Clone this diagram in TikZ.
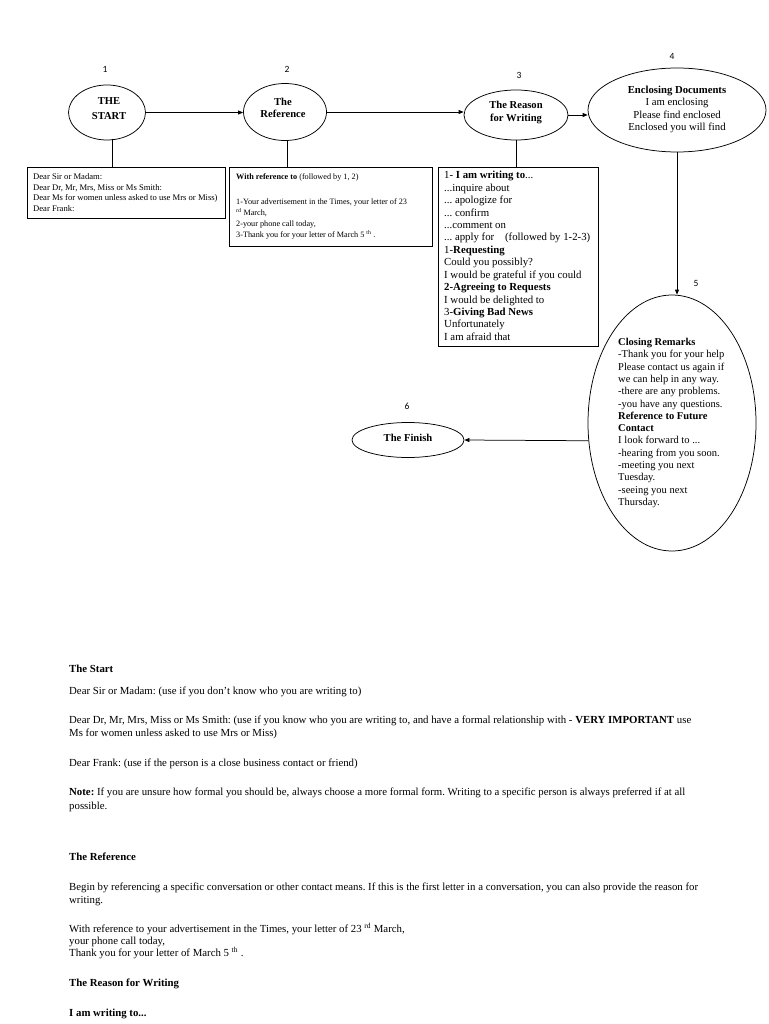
\documentclass[tikz,border=0pt]{standalone}
\usepackage{fontspec}
\setmainfont{Liberation Serif}
\newfontfamily\numfont{Carlito}
\usetikzlibrary{arrows.meta,shapes.geometric}
\frenchspacing
\begin{document}
\begin{tikzpicture}[x=1pt,y=-1pt,
  ell/.style={draw, ellipse, inner sep=0pt, line width=0.75pt},
  boxr/.style={draw, rectangle, inner sep=0pt, line width=0.75pt, anchor=north west},
  num/.style={font=\numfont\fontsize{9.5}{10}\selectfont, inner sep=0pt},
  etext/.style={align=center, inner sep=0pt, font=\bfseries\fontsize{10.6}{14}\selectfont},
  tline/.style={anchor=base west, inner sep=0pt, font=\fontsize{10.8}{12}\selectfont},
  conn/.style={line width=0.75pt},
  arr/.style={line width=0.75pt, -{Triangle[length=5pt,width=4pt]}}]
\useasboundingbox[fill=white] (0,0) rectangle (768,1024);

% step numbers
\node[num] (n1) at (105,69) {1};
\node[num] (n2) at (287,69) {2};
\node[num] (n3) at (519,75) {3};
\node[num] (n4) at (672,56) {4};
\node[num] (n5) at (696,283) {5};
\node[num] (n6) at (407,406) {6};

% ellipses
\node[ell, minimum width=77pt, minimum height=55pt] (e1) at (107,112.5) {};
\node[etext, font=\bfseries\fontsize{10.6}{15}\selectfont] (t1) at (109,108.5) {THE\\START};
\node[ell, minimum width=83pt, minimum height=57pt] (e2) at (285,112) {};
\node[etext, font=\bfseries\fontsize{10.6}{12}\selectfont] (t2) at (283,108) {The\\Reference};
\node[ell, minimum width=104pt, minimum height=50pt] (e3) at (516,115) {};
\node[etext, font=\bfseries\fontsize{10.6}{13}\selectfont] (t3) at (516,112) {The Reason\\for Writing};
\node[ell, minimum width=178pt, minimum height=84pt] (e4) at (677,110) {};
\node[align=center, inner sep=0pt, font=\fontsize{10.7}{12.2}\selectfont] (t4) at (677,109.5)
  {\textbf{Enclosing Documents}\\I am enclosing\\Please find enclosed\\Enclosed you will find};
\node[ell, minimum width=168pt, minimum height=256pt] (e5) at (672,423) {};
\node[anchor=base west, inner sep=0pt, font=\fontsize{10.5}{12.3}\selectfont] (t5) at (618,345.5)
  {\parbox[t]{130pt}{\raggedright
  \textbf{Closing Remarks}\\
  -Thank you for your help\\
  Please contact us again if\\
  we can help in any way.\\
  -there are any problems.\\
  -you have any questions.\\
  \textbf{Reference to Future}\\
  \textbf{Contact}\\
  I look forward to ...\\
  -hearing from you soon.\\
  -meeting you next\\
  Tuesday.\\
  -seeing you next\\
  Thursday.}};
\node[ell, minimum width=112pt, minimum height=35pt] (e6) at (408,440) {};
\node[etext] (t6) at (408,438) {The Finish};

% boxes
\node[boxr, minimum width=198pt, minimum height=51pt] (b1) at (27,167) {};
\node[anchor=base west, inner sep=0pt, font=\fontsize{8.6}{10.6}\selectfont] (bt1) at (33,179.5)
  {\parbox[t]{190pt}{\raggedright
  Dear Sir or Madam:\\
  Dear Dr, Mr, Mrs, Miss or Ms Smith:\\
  Dear Ms for women unless asked to use Mrs or Miss)\\
  Dear Frank:}};
\node[boxr, minimum width=203pt, minimum height=79pt] (b2) at (229,167) {};
\node[anchor=base west, inner sep=0pt, font=\fontsize{8.2}{11}\selectfont] (bt2) at (236,180)
  {\parbox[t]{195pt}{\raggedright
  \textbf{With reference to} (followed by 1, 2)\\[13.3pt]
  1-Your advertisement in the Times, your letter of 23\\
  \textsuperscript{rd} March,\\
  2-your phone call today,\\
  3-Thank you for your letter of March 5 \textsuperscript{th} .}};
\node[boxr, minimum width=160pt, minimum height=179pt] (b3) at (438,167) {};
\node[anchor=base west, inner sep=0pt, font=\fontsize{10.8}{12.4}\selectfont] (bt3) at (444,179)
  {\parbox[t]{154pt}{\raggedright
  1- \textbf{I am writing to}...\\
  ...inquire about\\
  ... apologize for\\
  ... confirm\\
  ...comment on\\
  ... apply for\quad (followed by 1-2-3)\\
  1-\textbf{Requesting}\\
  Could you possibly?\\
  I would be grateful if you could\\
  \textbf{2-Agreeing to Requests}\\
  I would be delighted to\\
  3-\textbf{Giving Bad News}\\
  Unfortunately\\
  I am afraid that}};

% connectors
\coordinate (c1) at (112,139);
\draw[conn] (c1) -- (c1 |- b1.north);
\coordinate (c2) at (287,140);
\draw[conn] (c2) -- (c2 |- b2.north);
\draw[conn] (e3.south) -- (e3.south |- b3.north);
\draw[arr] (e1.east) -- (e1.east -| e2.west);
\draw[arr] (e2.east) -- (e2.east -| e3.west);
\draw[arr] (e3.east) -- (e3.east -| e4.west);
\draw[arr] (e4.south) -- (e4.south |- e5.north);
\draw[arr] (e5.192) -- (e6.east);

% text below
\node[tline] (p1) at (69,672.5) {\textbf{The Start}};
\node[tline] (p2) at (69,694.5) {Dear Sir or Madam: (use if you don't know who you are writing to)};
\node[tline] (p3) at (69,723.5) {Dear Dr, Mr, Mrs, Miss or Ms Smith: (use if you know who you are writing to, and have a formal relationship with - \textbf{VERY IMPORTANT} use};
\node[tline] (p4) at (69,736.5) {Ms for women unless asked to use Mrs or Miss)};
\node[tline] (p5) at (69,766.5) {Dear Frank: (use if the person is a close business contact or friend)};
\node[tline] (p6) at (69,795.5) {\textbf{Note:} If you are unsure how formal you should be, always choose a more formal form. Writing to a specific person is always preferred if at all};
\node[tline] (p7) at (69,809.5) {possible.};
\node[tline] (p8) at (69,860.5) {\textbf{The Reference}};
\node[tline] (p9) at (69,890.5) {Begin by referencing a specific conversation or other contact means. If this is the first letter in a conversation, you can also provide the reason for};
\node[tline] (p10) at (69,903.5) {writing.};
\node[tline] (p11) at (69,932.5) {With reference to your advertisement in the Times, your letter of 23 \textsuperscript{rd} March,};
\node[tline] (p12) at (69,944.5) {your phone call today,};
\node[tline] (p13) at (69,956.5) {Thank you for your letter of March 5 \textsuperscript{th} .};
\node[tline] (p14) at (69,986.5) {\textbf{The Reason for Writing}};
\node[tline] (p15) at (69,1016.5) {\textbf{I am writing to...}};
\end{tikzpicture}
\end{document}
